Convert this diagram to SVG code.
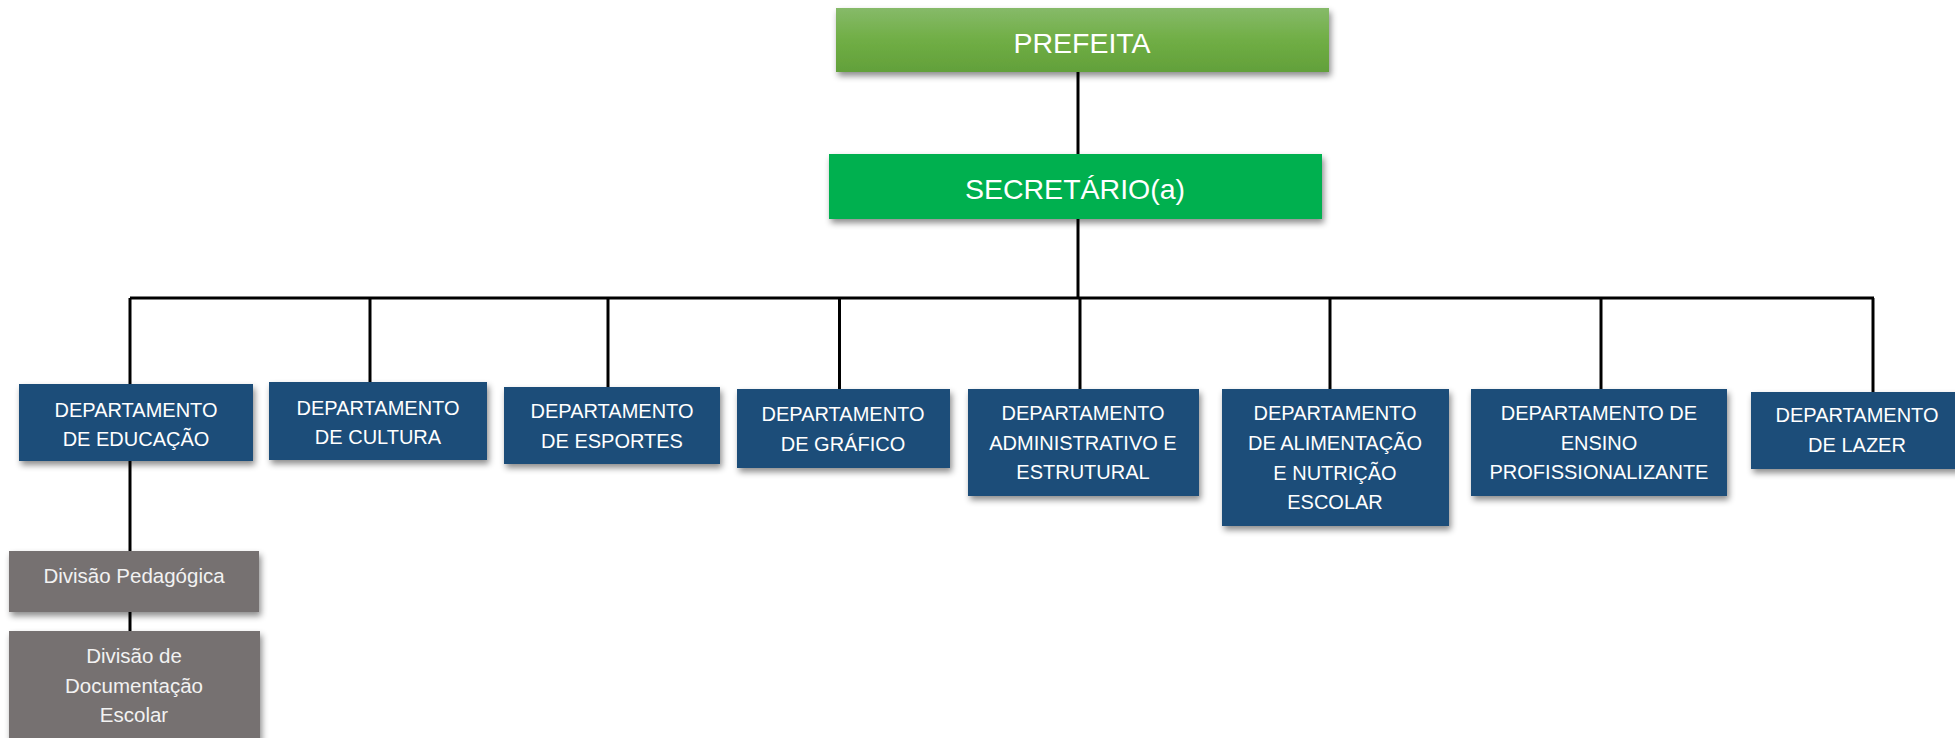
<svg xmlns="http://www.w3.org/2000/svg" width="1955" height="738" viewBox="0 0 1955 738">
<defs>
<linearGradient id="gPref" x1="0" y1="0" x2="0" y2="1">
<stop offset="0" stop-color="#86ba69"/>
<stop offset="0.5" stop-color="#70ae45"/>
<stop offset="1" stop-color="#62a03a"/>
</linearGradient>
<filter id="sh" x="-10%" y="-10%" width="125%" height="140%">
<feDropShadow dx="2" dy="4" stdDeviation="3" flood-color="#000" flood-opacity="0.45"/>
</filter>
</defs>
<style>
.blue{fill:#1f4e79;filter:url(#sh)}
.gray{fill:#767171;filter:url(#sh)}
.t{font-family:"Liberation Sans",Arial,sans-serif;font-size:20px;fill:#ffffff;text-anchor:middle}
.tg{font-family:"Liberation Sans",Arial,sans-serif;font-size:20.5px;fill:#f2f2f2;text-anchor:middle}
.big{font-family:"Liberation Sans",Arial,sans-serif;font-size:28.5px;fill:#ffffff;text-anchor:middle}
.c{stroke:#000;stroke-width:3;fill:none}
</style>
<rect width="1955" height="738" fill="#ffffff"/>
<g id="connectors">
<line class="c" x1="1078" y1="72" x2="1078" y2="154"/>
<line class="c" x1="1078" y1="219" x2="1078" y2="298"/>
<line class="c" x1="130" y1="298" x2="1874" y2="298"/>
<line class="c" x1="130" y1="298" x2="130" y2="384"/>
<line class="c" x1="370" y1="298" x2="370" y2="382"/>
<line class="c" x1="608" y1="298" x2="608" y2="387"/>
<line class="c" x1="839.5" y1="298" x2="839.5" y2="389"/>
<line class="c" x1="1080" y1="298" x2="1080" y2="389"/>
<line class="c" x1="1330" y1="298" x2="1330" y2="389"/>
<line class="c" x1="1601" y1="298" x2="1601" y2="389"/>
<line class="c" x1="1873" y1="298" x2="1873" y2="392"/>
<line class="c" x1="130" y1="461" x2="130" y2="551"/>
<line class="c" x1="130" y1="612" x2="130" y2="631"/>
</g>
<g id="prefeita">
<rect x="836" y="8" width="493" height="64" fill="url(#gPref)" filter="url(#sh)"/>
<text class="big" x="1082" y="53">PREFEITA</text>
</g>
<g id="secretario">
<rect x="829" y="154" width="493" height="65" fill="#00b050" filter="url(#sh)"/>
<text class="big" x="1075" y="199">SECRETÁRIO(a)</text>
</g>
<g id="dep-educacao">
<rect class="blue" x="19" y="384" width="234" height="77"/>
<text class="t" x="136" y="417">DEPARTAMENTO</text>
<text class="t" x="136" y="446">DE EDUCAÇÃO</text>
</g>
<g id="dep-cultura">
<rect class="blue" x="269" y="382" width="218" height="78"/>
<text class="t" x="378" y="415">DEPARTAMENTO</text>
<text class="t" x="378" y="444">DE CULTURA</text>
</g>
<g id="dep-esportes">
<rect class="blue" x="504" y="387" width="216" height="77"/>
<text class="t" x="612" y="418">DEPARTAMENTO</text>
<text class="t" x="612" y="448">DE ESPORTES</text>
</g>
<g id="dep-grafico">
<rect class="blue" x="737" y="389" width="213" height="79"/>
<text class="t" x="843" y="421">DEPARTAMENTO</text>
<text class="t" x="843" y="451">DE GRÁFICO</text>
</g>
<g id="dep-administrativo">
<rect class="blue" x="968" y="389" width="231" height="107"/>
<text class="t" x="1083" y="420">DEPARTAMENTO</text>
<text class="t" x="1083" y="450">ADMINISTRATIVO E</text>
<text class="t" x="1083" y="479">ESTRUTURAL</text>
</g>
<g id="dep-alimentacao">
<rect class="blue" x="1222" y="389" width="227" height="137"/>
<text class="t" x="1335" y="420">DEPARTAMENTO</text>
<text class="t" x="1335" y="450">DE ALIMENTAÇÃO</text>
<text class="t" x="1335" y="480">E NUTRIÇÃO</text>
<text class="t" x="1335" y="509">ESCOLAR</text>
</g>
<g id="dep-ensino">
<rect class="blue" x="1471" y="389" width="256" height="107"/>
<text class="t" x="1599" y="420">DEPARTAMENTO DE</text>
<text class="t" x="1599" y="450">ENSINO</text>
<text class="t" x="1599" y="479">PROFISSIONALIZANTE</text>
</g>
<g id="dep-lazer">
<rect class="blue" x="1751" y="392" width="212" height="77"/>
<text class="t" x="1857" y="422">DEPARTAMENTO</text>
<text class="t" x="1857" y="452">DE LAZER</text>
</g>
<g id="div-pedagogica">
<rect class="gray" x="9" y="551" width="250" height="61"/>
<text class="tg" x="134" y="583">Divisão Pedagógica</text>
</g>
<g id="div-documentacao">
<rect class="gray" x="9" y="631" width="251" height="120"/>
<text class="tg" x="134" y="663">Divisão de</text>
<text class="tg" x="134" y="693">Documentação</text>
<text class="tg" x="134" y="722">Escolar</text>
</g>
</svg>
